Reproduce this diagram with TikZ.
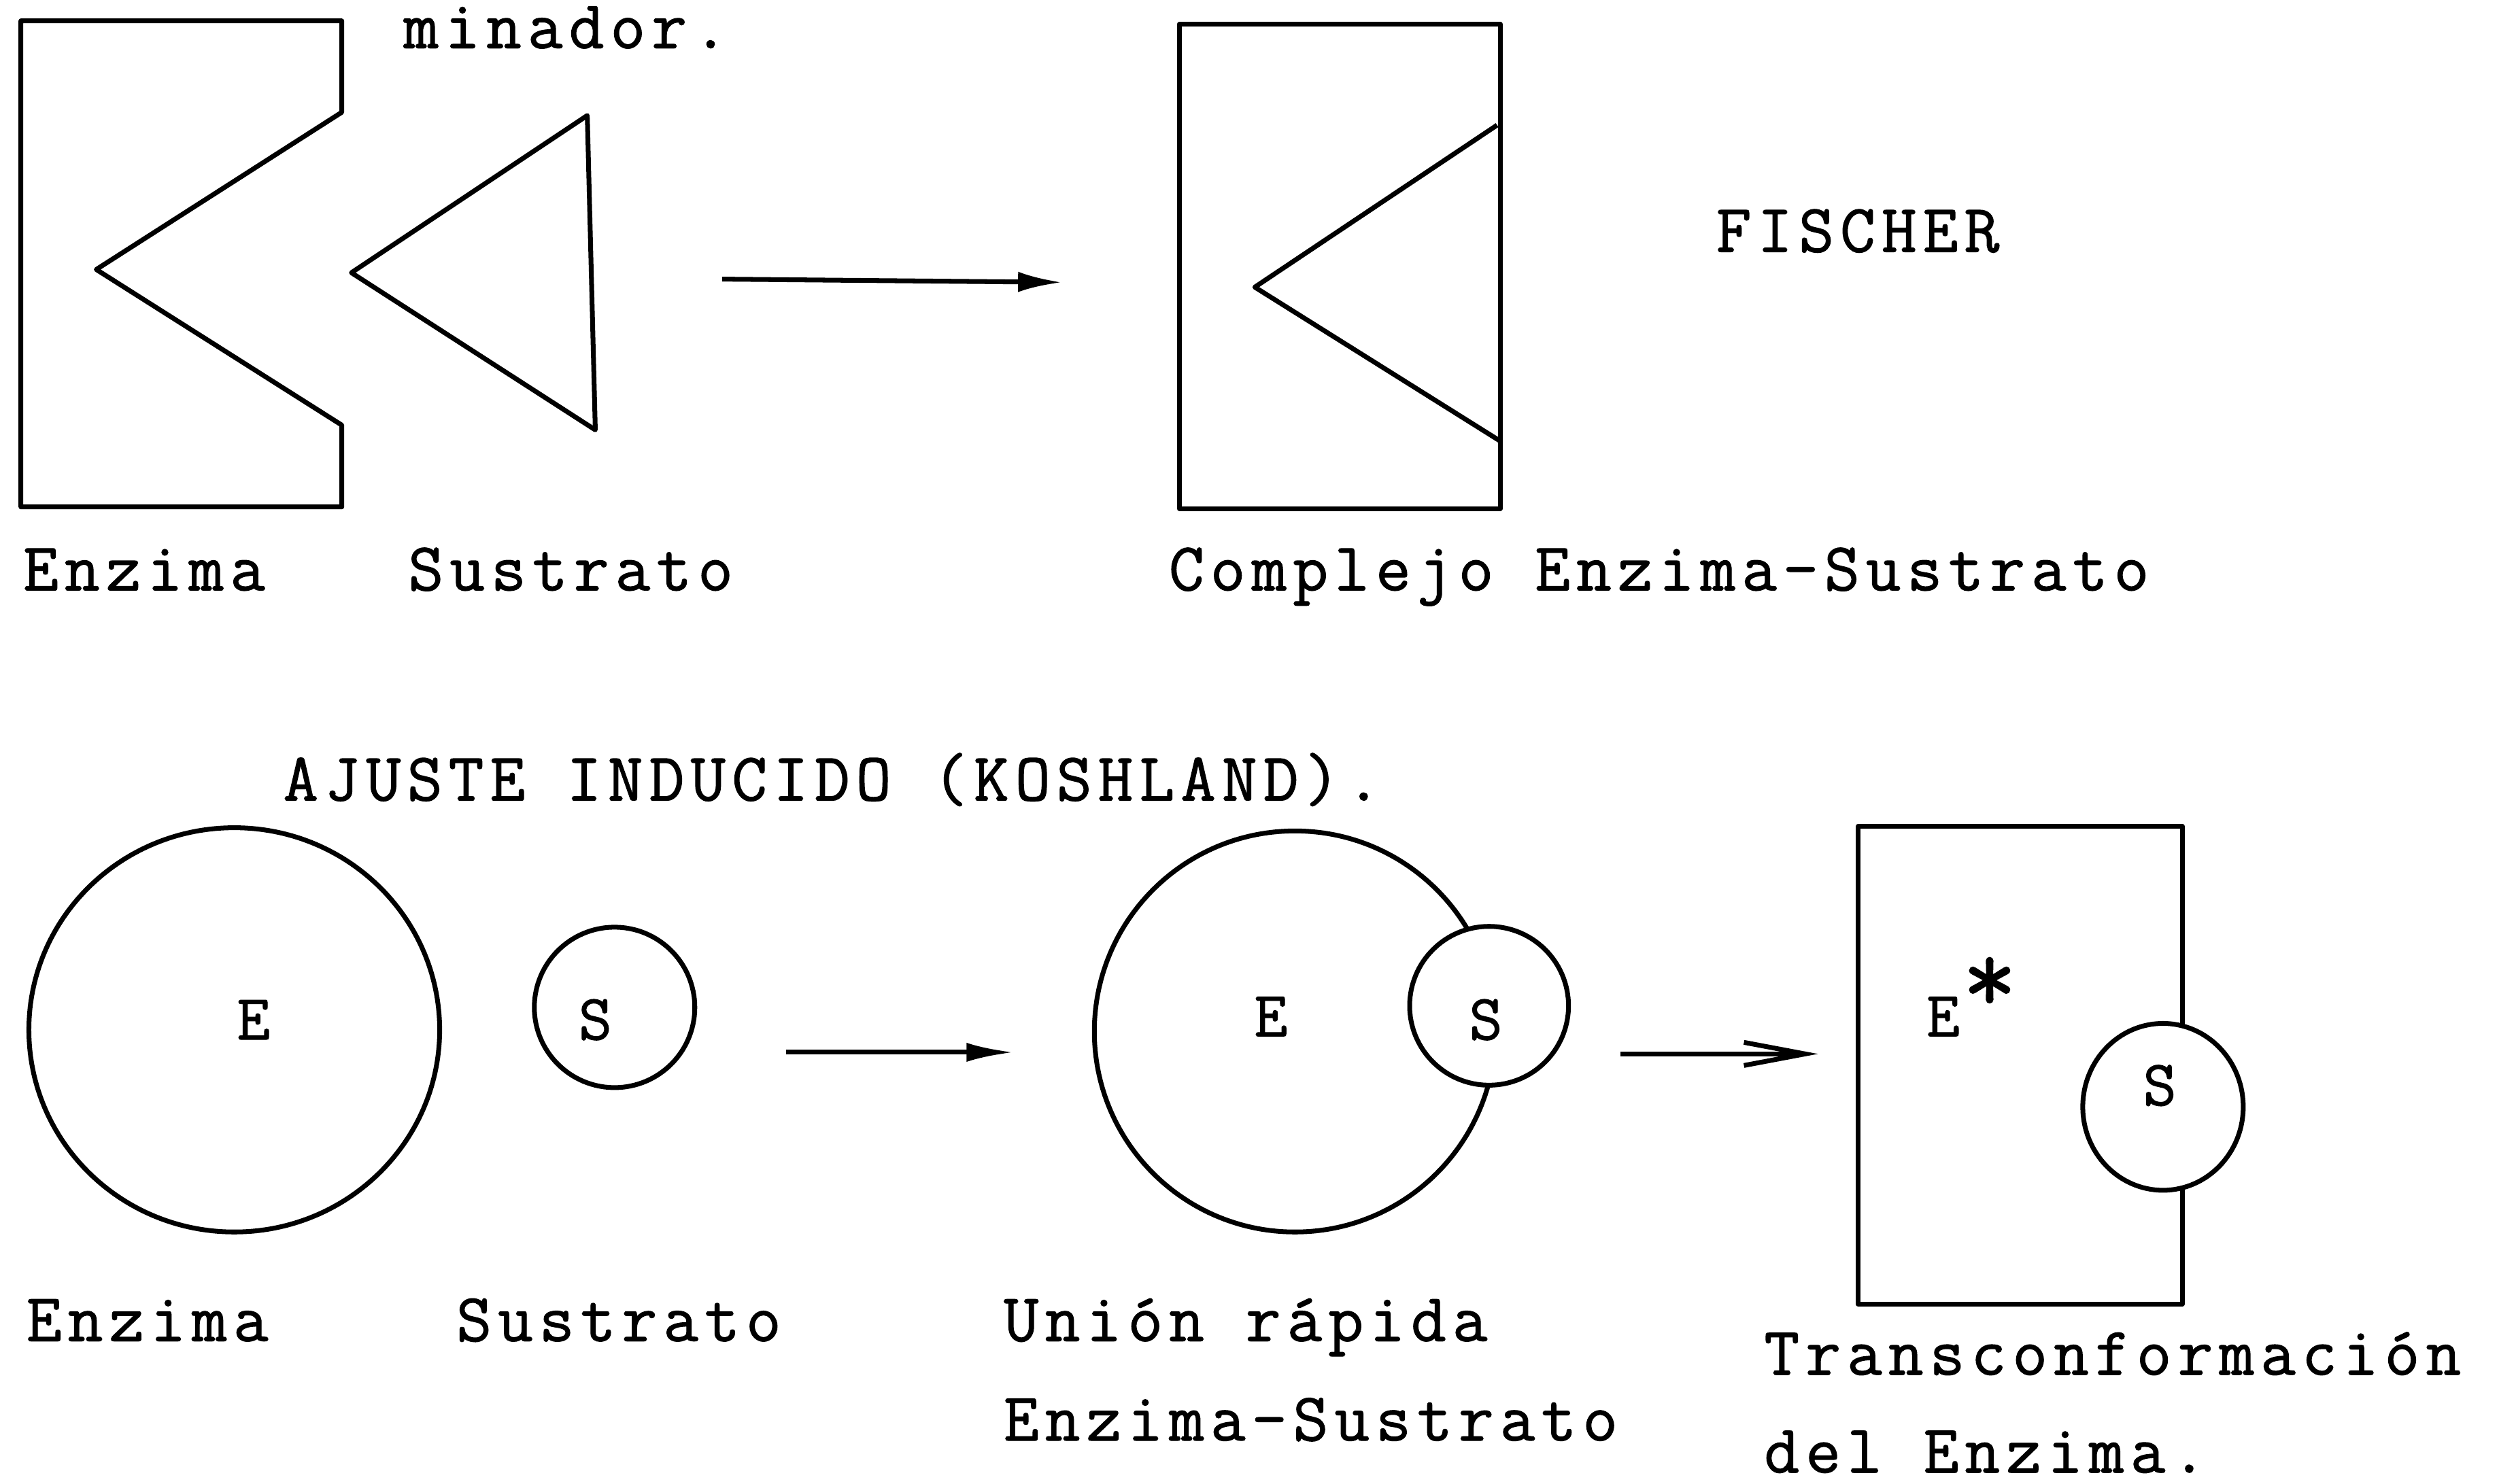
\documentclass[tikz,border=0pt]{standalone}
\usepackage{fontspec}
\newfontfamily\typew[LetterSpace=9,FakeBold=1.2]{Latin Modern Mono}
\newfontfamily\typeone[FakeBold=1.2]{Latin Modern Mono}
\usetikzlibrary{arrows.meta}
\begin{document}
\begin{tikzpicture}[x=0.23597mm, y=-0.23597mm, line width=2pt, line join=round,
  lbl/.style={anchor=base west, inner sep=0pt, font=\fontsize{28.6}{32}\selectfont\typew},
  ctr/.style={anchor=base, inner sep=0pt, font=\fontsize{27}{32}\selectfont\typeone},
  outl/.style={draw=black, line width=2pt},
  arr/.style={line width=2pt}]
\useasboundingbox (0,0) rectangle (1568,925);
\fill[white] (0,0) rectangle (1568,925);

% ---------- FISCHER ----------
\draw[outl] (213,13) -- (13,13) -- (13,316) -- (213,316) -- (213,265) -- (60,168) -- (213,70) -- cycle;
\draw[outl] (219,170) -- (366,72) -- (371,268) -- cycle;
\coordinate (a1s) at (450,174);
\coordinate (a1e) at (662,176);
\draw[arr, -{Latex[length=6.5mm,width=3mm]}] (a1s) -- (a1e);
\draw[outl] (735,15) rectangle (935,317);
\draw[outl] (933,78) -- (782,179) -- (935,275);

\node[lbl] (minador) at (250,30) {minador.};
\node[lbl] (enz1) at (13,368) {Enzima};
\node[lbl] (sus1) at (253,368) {Sustrato};
\node[lbl] (comp) at (727,368) {Complejo Enzima-Sustrato};
\node[lbl] (fischer) at (1068,157) {FISCHER};

% ---------- KOSHLAND ----------
\node[lbl] (ajuste) at (175,499) {AJUSTE INDUCIDO (KOSHLAND).};

\draw[outl] (146,642) ellipse [x radius=128, y radius=126];
\node[ctr] (E1) at (158,648) {E};
\draw[outl] (383,628) circle [radius=50];
\node[ctr] (S1) at (371,648) {S};

\coordinate (a2s) at (490,656);
\coordinate (a2e) at (632,656);
\draw[arr, -{Latex[length=7mm,width=2.8mm]}] (a2s) -- (a2e);

\draw[outl] (807,643) circle [radius=125];
\draw[outl, fill=white] (928,627) circle [radius=49.5];
\node[ctr] (E2) at (792,646) {E};
\node[ctr] (S2) at (926,648) {S};

\coordinate (a3s) at (1010,657);
\coordinate (a3e) at (1133,657);
\draw[arr, -{Straight Barb[length=9mm,width=3.4mm]}] (a3s) -- (a3e);

\draw[outl] (1158,515) rectangle (1360,813);
\draw[outl, fill=white] (1348,690) ellipse [x radius=50, y radius=52];
\node[ctr] (E3) at (1211,646) {E};
\node[anchor=center, inner sep=0pt, font=\fontsize{44}{50}\selectfont\typeone\bfseries] (star) at (1240,614) {*};
\node[ctr] (S3) at (1346,689) {S};

\node[lbl] (enz2) at (15,836) {Enzima};
\node[lbl] (sus2) at (283,836) {Sustrato};
\node[lbl] (union) at (624,836) {Unión rápida};
\node[lbl] (es) at (624,898) {Enzima-Sustrato};
\node[lbl] (trans) at (1098,857) {Transconformación};
\node[lbl] (del) at (1098,918) {del Enzima.};
\end{tikzpicture}
\end{document}
